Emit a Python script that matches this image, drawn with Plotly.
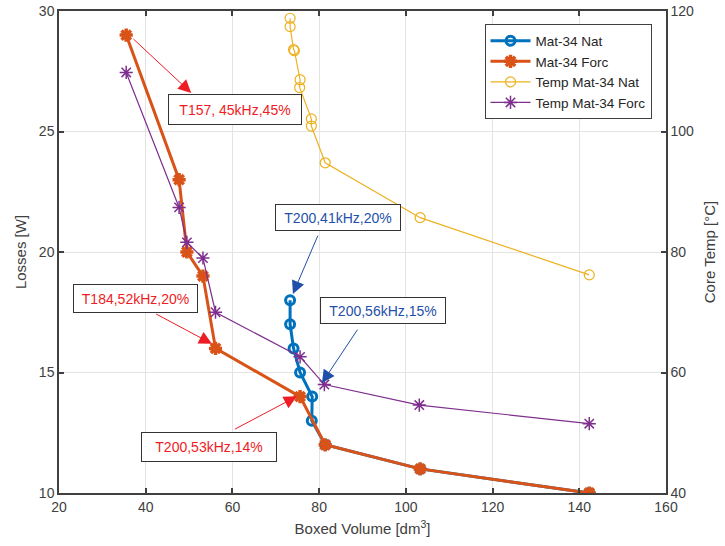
import plotly.graph_objects as go

# ---- data ----
nat_vol = [73.3, 73.3, 74.1, 75.6, 78.4, 78.3, 81.4, 103.3, 142.3]
nat_loss = [18, 17, 16, 15, 14, 13, 12, 11, 10]

forc_vol = [35.5, 47.7, 49.5, 53.2, 56.1, 75.6, 81.4, 103.3, 142.3]
forc_loss = [29, 23, 20, 19, 16, 14, 12, 11, 10]

tnat_vol = [73.3, 73.3, 74.1, 74.3, 75.6, 75.5, 78.2, 78.2, 81.4, 103.3, 142.3]
tnat_temp = [118.8, 117.4, 113.6, 113.4, 108.6, 107.3, 102.1, 100.9, 94.8, 85.7, 76.2]

tforc_vol = [35.5, 47.7, 49.5, 53.2, 56.1, 75.6, 81.2, 103.1, 142.3]
tforc_temp = [109.8, 87.4, 81.6, 79.0, 70.0, 62.6, 58.0, 54.6, 51.5]

x_ticks = [20, 40, 60, 80, 100, 120, 140, 160]
y_ticks = [10, 15, 20, 25, 30]
y2_ticks = [40, 60, 80, 100, 120]

# annotations: text, box centre (x, y), arrow tail (x, y), arrow head (x, y), colour key, box w/h px
notes = [
    ("T157, 45kHz,45%", (60.5, 25.91), (36.85, 28.89), (50.5, 26.6), "red", (134, 31)),
    ("T184,52kHz,20%", (37.65, 18.09), (42.06, 17.46), (55.28, 16.19), "red", (125, 29)),
    ("T200,41kHz,20%", (84.28, 21.42), (79.85, 20.74), (73.95, 18.26), "blue", (126, 27)),
    ("T200,56kHz,15%", (94.65, 17.57), (89.07, 16.84), (80.64, 14.56), "blue", (126, 27)),
    ("T200,53kHz,14%", (54.55, 11.91), (60.26, 12.62), (74.87, 14.01), "red", (136, 30)),
]

C_BLUE = "#0072BD"
C_ORANGE = "#D95319"
C_YELLOW = "#EDB120"
C_PURPLE = "#7E2F8E"
AX = "#404040"
FONT = "Liberation Sans, Arial, sans-serif"
note_col = {"red": "#EE1C24", "blue": "#1F4FA8"}

fig = go.Figure()
fig.add_trace(go.Scatter(x=nat_vol, y=nat_loss, name="Mat-34 Nat", mode="lines+markers",
                         line=dict(color=C_BLUE, width=3),
                         marker=dict(symbol="circle-open", size=9, color=C_BLUE,
                                     line=dict(width=3, color=C_BLUE))))
fig.add_trace(go.Scatter(x=forc_vol, y=forc_loss, name="Mat-34 Forc", mode="lines+markers",
                         line=dict(color=C_ORANGE, width=3),
                         marker=dict(symbol="asterisk-open", size=11, color=C_ORANGE,
                                     line=dict(width=3.5, color=C_ORANGE))))
fig.add_trace(go.Scatter(x=tnat_vol, y=tnat_temp, name="Temp Mat-34 Nat", mode="lines+markers",
                         yaxis="y2",
                         line=dict(color=C_YELLOW, width=1.2),
                         marker=dict(symbol="circle-open", size=10, color=C_YELLOW,
                                     line=dict(width=1.2, color=C_YELLOW))))
fig.add_trace(go.Scatter(x=tforc_vol, y=tforc_temp, name="Temp Mat-34 Forc", mode="lines+markers",
                         yaxis="y2",
                         line=dict(color=C_PURPLE, width=1.2),
                         marker=dict(symbol="asterisk-open", size=11, color=C_PURPLE,
                                     line=dict(width=1.5, color=C_PURPLE))))

for text, (bx, by), (tx, ty), (hx, hy), ck, (bw, bh) in notes:
    col = note_col[ck]
    fig.add_annotation(x=hx, y=hy, ax=tx, ay=ty, xref="x", yref="y", axref="x", ayref="y",
                       text="", showarrow=True, arrowhead=2, arrowsize=2.6, arrowwidth=1,
                       arrowcolor=col, standoff=0, startstandoff=0)
    fig.add_annotation(x=bx, y=by, xref="x", yref="y", text=text, showarrow=False,
                       font=dict(family=FONT, size=14, color=col),
                       width=bw - 4, height=bh - 4,
                       bordercolor="#333333", borderwidth=1, borderpad=1, bgcolor="white")

axis_common = dict(showline=True, linecolor=AX, linewidth=1.5, ticks="inside", ticklen=5,
                   tickwidth=1.5, tickcolor=AX, zeroline=False, automargin=False,
                   tickfont=dict(family=FONT, size=14, color=AX))

fig.update_layout(
    width=725, height=546,
    margin=dict(l=59, r=59, t=11, b=53),
    paper_bgcolor="white", plot_bgcolor="white",
    font=dict(family=FONT, size=14, color=AX),
    xaxis=dict(range=[20, 160], tickvals=x_ticks, mirror="ticks", showgrid=True,
               gridcolor="#E3E3E3", gridwidth=1,
               title=dict(text="Boxed Volume [dm<sup>3</sup>]", standoff=10,
                          font=dict(family=FONT, size=15, color=AX)),
               **axis_common),
    yaxis=dict(range=[10, 30], tickvals=y_ticks, showgrid=True, gridcolor="#E3E3E3",
               gridwidth=1,
               title=dict(text="Losses [W]", standoff=9,
                          font=dict(family=FONT, size=15, color=AX)),
               **axis_common),
    yaxis2=dict(range=[40, 120], tickvals=y2_ticks, overlaying="y", side="right",
                showgrid=False,
                title=dict(text="Core Temp [°C]", standoff=11,
                           font=dict(family=FONT, size=15, color=AX)),
                **axis_common),
    legend=dict(x=0.701, y=0.972, xanchor="left", yanchor="top", bgcolor="white",
                bordercolor=AX, borderwidth=1, font=dict(family=FONT, size=13.5, color="#262626"),
                tracegroupgap=0, itemwidth=40),
    showlegend=True,
)

fig.write_html("out.html", config={"displayModeBar": False},
               post_script="document.body.style.margin='0';")
